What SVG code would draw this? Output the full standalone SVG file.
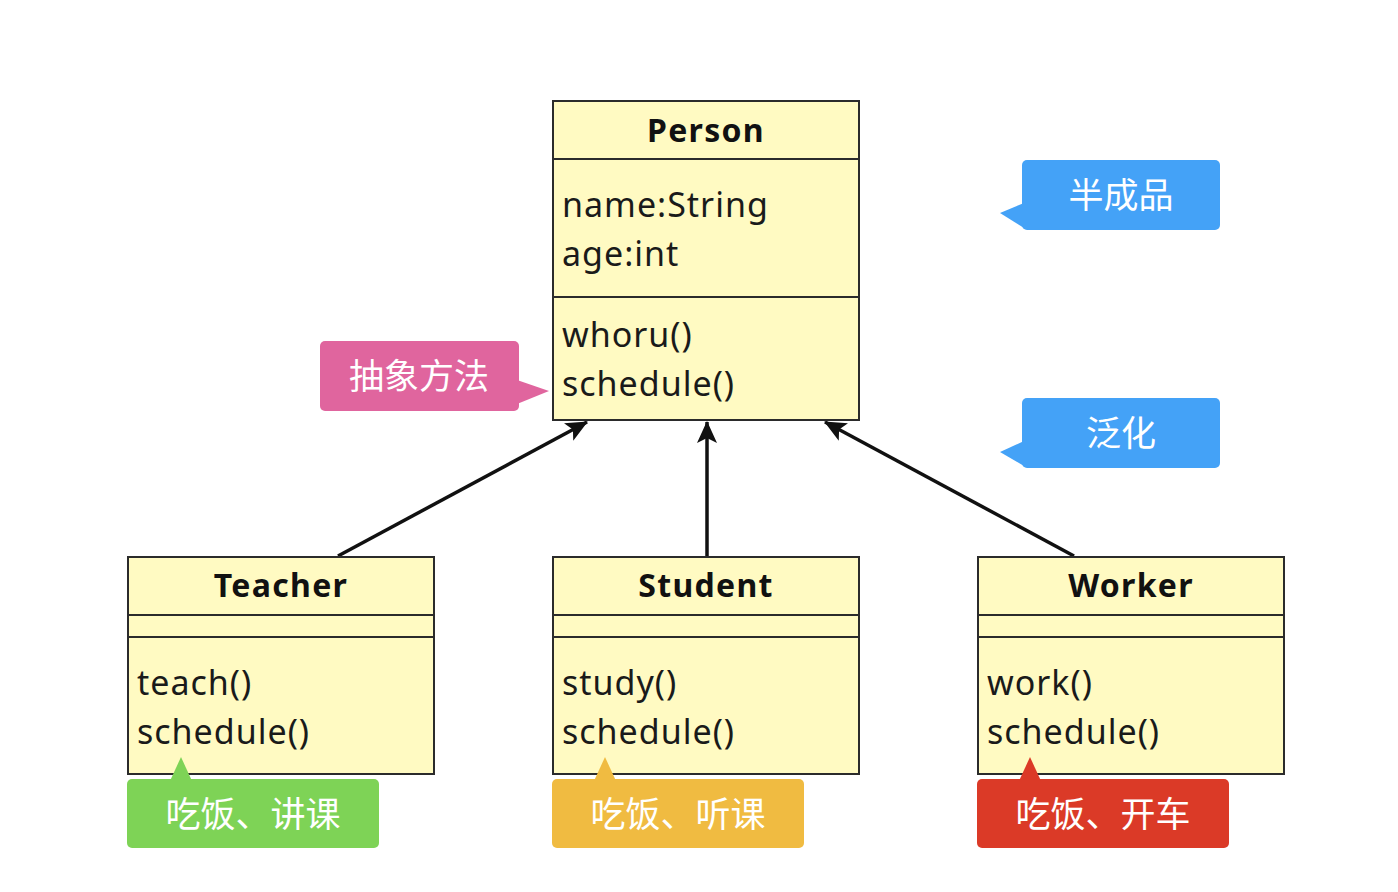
<svg xmlns="http://www.w3.org/2000/svg" width="1398" height="892" viewBox="0 0 1398 892">
<defs>
<style>
.box{fill:#fffac2;stroke:#2b2b2b;stroke-width:2}
.div{stroke:#2b2b2b;stroke-width:2}
.title{font-family:"Noto Sans","Open Sans","DejaVu Sans",sans-serif;font-size:32px;font-weight:bold;fill:#111;text-anchor:middle;letter-spacing:1.3px}
.mem{font-family:"Noto Sans","Open Sans","DejaVu Sans",sans-serif;font-size:34px;fill:#1a1a1a;letter-spacing:1px}
.call{font-family:"Noto Sans CJK SC","Noto Sans",sans-serif;font-size:35px;fill:#fff;text-anchor:middle}
.conn{stroke:#111;stroke-width:3.5;fill:none}
</style>
<marker id="ah" viewBox="0 0 22 20" refX="21" refY="10" markerWidth="22" markerHeight="20" markerUnits="userSpaceOnUse" orient="auto">
<path d="M0,0 L22,10 L0,20 L5,10 Z" fill="#111"/>
</marker>
</defs>
<rect width="1398" height="892" fill="#fff"/>

<g id="connectors">
<line class="conn" x1="338" y1="556" x2="587" y2="422" marker-end="url(#ah)"/>
<line class="conn" x1="707" y1="556" x2="707" y2="422" marker-end="url(#ah)"/>
<line class="conn" x1="1074" y1="556" x2="825" y2="422" marker-end="url(#ah)"/>
</g>

<g id="person">
<rect class="box" x="553" y="101" width="306" height="319"/>
<line class="div" x1="553" y1="159" x2="859" y2="159"/>
<line class="div" x1="553" y1="297" x2="859" y2="297"/>
<text class="title" x="706" y="142">Person</text>
<text class="mem" x="562" y="217">name:String</text>
<text class="mem" x="562" y="266">age:int</text>
<text class="mem" x="562" y="347">whoru()</text>
<text class="mem" x="562" y="396">schedule()</text>
</g>

<g id="teacher">
<rect class="box" x="128" y="557" width="306" height="217"/>
<line class="div" x1="128" y1="615" x2="434" y2="615"/>
<line class="div" x1="128" y1="637" x2="434" y2="637"/>
<text class="title" x="281" y="597">Teacher</text>
<text class="mem" x="137" y="695">teach()</text>
<text class="mem" x="137" y="744">schedule()</text>
</g>

<g id="student">
<rect class="box" x="553" y="557" width="306" height="217"/>
<line class="div" x1="553" y1="615" x2="859" y2="615"/>
<line class="div" x1="553" y1="637" x2="859" y2="637"/>
<text class="title" x="706" y="597">Student</text>
<text class="mem" x="562" y="695">study()</text>
<text class="mem" x="562" y="744">schedule()</text>
</g>

<g id="worker">
<rect class="box" x="978" y="557" width="306" height="217"/>
<line class="div" x1="978" y1="615" x2="1284" y2="615"/>
<line class="div" x1="978" y1="637" x2="1284" y2="637"/>
<text class="title" x="1131" y="597">Worker</text>
<text class="mem" x="987" y="695">work()</text>
<text class="mem" x="987" y="744">schedule()</text>
</g>

<g id="note-banchengpin">
<rect x="1022" y="160" width="198" height="70" rx="5" fill="#44a2f7"/>
<path d="M1024,203 L1000,213 L1024,228 Z" fill="#44a2f7"/>
<text class="call" x="1121" y="208">半成品</text>
</g>

<g id="note-fanhua">
<rect x="1022" y="398" width="198" height="70" rx="5" fill="#44a2f7"/>
<path d="M1024,441 L1000,452 L1024,466 Z" fill="#44a2f7"/>
<text class="call" x="1121" y="446">泛化</text>
</g>

<g id="note-chouxiang">
<rect x="320" y="341" width="199" height="70" rx="5" fill="#e0659e"/>
<path d="M517,380 L549,391 L517,404 Z" fill="#e0659e"/>
<text class="call" x="419" y="389">抽象方法</text>
</g>

<g id="note-teacher">
<rect x="127" y="779" width="252" height="69" rx="5" fill="#7ed356"/>
<path d="M170,781 L181,757 L192,781 Z" fill="#7ed356"/>
<text class="call" x="253" y="827">吃饭、讲课</text>
</g>

<g id="note-student">
<rect x="552" y="779" width="252" height="69" rx="5" fill="#f0bb41"/>
<path d="M594,781 L605,757 L616,781 Z" fill="#f0bb41"/>
<text class="call" x="678" y="827">吃饭、听课</text>
</g>

<g id="note-worker">
<rect x="977" y="779" width="252" height="69" rx="5" fill="#db3a27"/>
<path d="M1019,781 L1030,757 L1041,781 Z" fill="#db3a27"/>
<text class="call" x="1103" y="827">吃饭、开车</text>
</g>
</svg>
